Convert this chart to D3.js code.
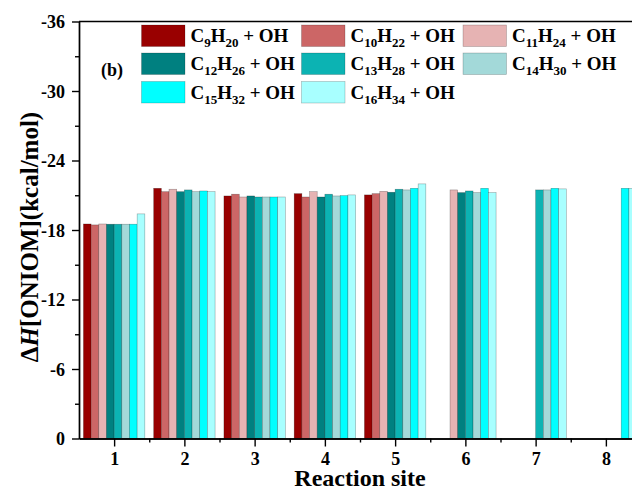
<!DOCTYPE html>
<html>
<head>
<meta charset="utf-8">
<script src="https://cdn.jsdelivr.net/npm/d3@7"></script>
<style>
  body { margin: 0; background: #fff; }
  svg { display: block; overflow: hidden; }
  text { font-family: "Liberation Serif", "Times New Roman", serif; font-weight: bold; fill: #000; }
</style>
</head>
<body>
<div class="chart"></div>
<script>
// reaction sites
var sites = [1, 2, 3, 4, 5, 6, 7, 8];

// series names and their subscripts
var seriesNames = ["C9H20", "C10H22", "C11H24", "C12H26", "C13H28", "C14H30", "C15H32", "C16H34"];
var seriesC = ["9", "10", "11", "12", "13", "14", "15", "16"];
var seriesH = ["20", "22", "24", "26", "28", "30", "32", "34"];
var colors = ["#990000", "#cc6666", "#e6b3b3", "#008080", "#0cb3b3", "#a3d9d9", "#00ffff", "#a8ffff"];

// ΔH values (kcal/mol), null = no bar
var c9  = [-18.52, -21.60, -20.94, -21.14, -21.03, null, null, null];
var c10 = [-18.44, -21.31, -21.09, -20.85, -21.14, null, null, null];
var c11 = [-18.52, -21.52, -20.85, -21.31, -21.34, -21.46, null, null];
var c12 = [-18.50, -21.31, -20.94, -20.85, -21.26, -21.23, null, null];
var c13 = [-18.50, -21.46, -20.85, -21.09, -21.52, -21.37, -21.46, null];
var c14 = [-18.50, -21.31, -20.85, -20.94, -21.46, -21.23, -21.46, null];
var c15 = [-18.50, -21.37, -20.85, -20.97, -21.60, -21.60, -21.60, -21.60];
var c16 = [-19.39, -21.31, -20.85, -21.03, -21.98, -21.23, -21.55, -21.60];
var values = [c9, c10, c11, c12, c13, c14, c15, c16];

var yTicks = [0, -6, -12, -18, -24, -30, -36];

var W = 632, H = 490;
var plot = { left: 79, right: 641, top: 21.5, bottom: 438.5 };

var svg = d3.select(".chart").append("svg")
    .attr("width", W)
    .attr("height", H);

var x = d3.scaleLinear().domain([0.5, 8.5]).range([plot.left, plot.right]);
var y = d3.scaleLinear().domain([0, -36]).range([plot.bottom, plot.top]);
var groupW = 61.4;
var inner = d3.scaleBand().domain(seriesNames).range([-groupW / 2, groupW / 2]);

// bars
var bars = [];
values.forEach(function(vals, si) {
    vals.forEach(function(v, ci) {
        if (v !== null) bars.push({ s: si, site: sites[ci], v: v });
    });
});

svg.append("g").selectAll("rect")
    .data(bars)
  .enter().append("rect")
    .attr("x", function(d) { return x(d.site) + inner(seriesNames[d.s]); })
    .attr("y", function(d) { return y(d.v); })
    .attr("width", inner.bandwidth())
    .attr("height", function(d) { return y(0) - y(d.v); })
    .style("fill", function(d) { return colors[d.s]; })
    .style("stroke", "rgba(0,0,0,0.35)")
    .style("stroke-width", 0.6);

// axes
var axisStyle = function(g) {
    g.selectAll("path").style("stroke", "#000").style("stroke-width", 1.4);
    g.selectAll("line").style("stroke", "#000").style("stroke-width", 1.4);
};
var plain = function(d) { return String(d); };

var xAxis = svg.append("g")
    .attr("transform", "translate(0," + plot.bottom + ")")
    .call(d3.axisBottom(x).tickValues(sites).tickSize(8).tickSizeOuter(0).tickFormat(plain));
xAxis.selectAll("text").style("font-size", "18px").attr("y", 8).attr("dy", "1em");
axisStyle(xAxis);

svg.append("g")
    .attr("transform", "translate(0," + plot.bottom + ")")
    .call(d3.axisBottom(x).tickValues([1.5, 2.5, 3.5, 4.5, 5.5, 6.5, 7.5]).tickSize(4).tickSizeOuter(0).tickFormat(""))
    .call(axisStyle);

var yAxis = svg.append("g")
    .attr("transform", "translate(" + plot.left + ",0)")
    .call(d3.axisLeft(y).tickValues(yTicks).tickSize(7).tickSizeOuter(0).tickFormat(plain));
yAxis.selectAll("text").style("font-size", "18px").attr("x", -14).attr("dy", "0.34em");
axisStyle(yAxis);

svg.append("g")
    .attr("transform", "translate(" + plot.left + ",0)")
    .call(d3.axisLeft(y).tickValues([-3, -9, -15, -21, -27, -33]).tickSize(4).tickSizeOuter(0).tickFormat(""))
    .call(axisStyle);

// top and right frame
svg.append("line")
    .attr("x1", plot.left).attr("x2", plot.right)
    .attr("y1", plot.top).attr("y2", plot.top)
    .style("stroke", "#000").style("stroke-width", 1.4);
svg.append("line")
    .attr("x1", plot.right).attr("x2", plot.right)
    .attr("y1", plot.top).attr("y2", plot.bottom)
    .style("stroke", "#000").style("stroke-width", 1.4);

// axis titles
svg.append("text")
    .attr("x", (plot.left + plot.right) / 2)
    .attr("y", 486)
    .attr("text-anchor", "middle")
    .style("font-size", "24px")
    .text("Reaction site");

var yl = svg.append("text")
    .attr("transform", "translate(38,237) rotate(-90)")
    .attr("text-anchor", "middle")
    .style("font-size", "25px");
yl.append("tspan").text("Δ");
yl.append("tspan").style("font-style", "italic").text("H");
yl.append("tspan").text("[ONIOM](kcal/mol)");

// panel label
svg.append("text")
    .attr("x", 101).attr("y", 76)
    .style("font-size", "18px")
    .text("(b)");

// legend
var legCols = [141.5, 301.5, 463];
var legRows = [25, 53, 81.5];
var legend = svg.append("g").selectAll("g")
    .data(seriesNames)
  .enter().append("g")
    .attr("transform", function(d, i) {
        return "translate(" + legCols[i % 3] + "," + legRows[Math.floor(i / 3)] + ")";
    });

legend.append("rect")
    .attr("width", 43.5)
    .attr("height", 21.5)
    .style("fill", function(d, i) { return colors[i]; })
    .style("stroke", "rgba(0,0,0,0.3)")
    .style("stroke-width", 0.6);

var lt = legend.append("text")
    .attr("x", 49)
    .attr("y", 17)
    .style("font-size", "19px");
lt.append("tspan").text("C");
lt.append("tspan").attr("dy", 5).style("font-size", "13px").text(function(d, i) { return seriesC[i]; });
lt.append("tspan").attr("dy", -5).text("H");
lt.append("tspan").attr("dy", 5).style("font-size", "13px").text(function(d, i) { return seriesH[i]; });
lt.append("tspan").attr("dy", -5).text(" + OH");
</script>
</body>
</html>
